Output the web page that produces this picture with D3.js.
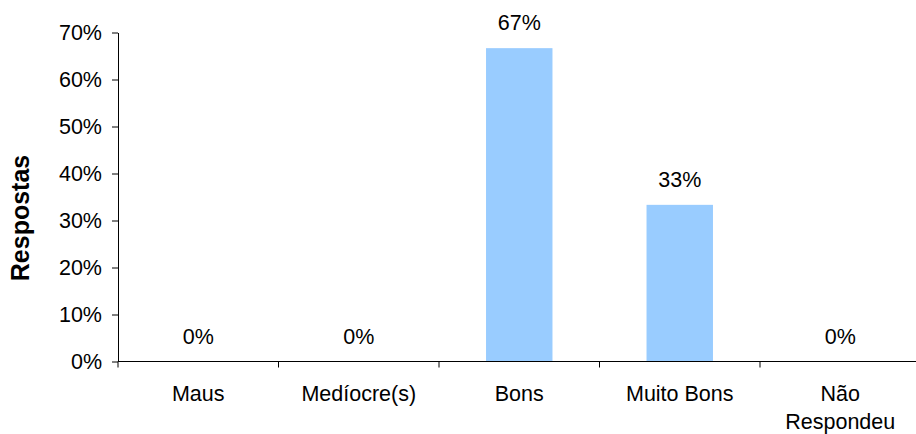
<!DOCTYPE html>
<html>
<head>
<meta charset="utf-8">
<script src="https://cdn.jsdelivr.net/npm/d3@7"></script>
<style>
  html, body { margin: 0; padding: 0; background: #fff; }
  svg { display: block; font-family: "Liberation Sans", Arial, sans-serif; }
</style>
</head>
<body>
<svg id="chart" width="916" height="434"></svg>
<script>
const categories = ["Maus", "Medíocre(s)", "Bons", "Muito Bons", "Não Respondeu"];
const values = [0, 0, 66.67, 33.33, 0];
const valueLabels = ["0%", "0%", "67%", "33%", "0%"];
const yTicks = [0, 10, 20, 30, 40, 50, 60, 70];
const yTitle = "Respostas";

const svg = d3.select("#chart");
const mLeft = 118, mRight = 920.5, mTop = 32.5, mBottom = 361.5;
const fs = 21.5;

const x = d3.scaleBand().domain(categories).range([mLeft, mRight])
  .paddingInner(0.586).paddingOuter(0.293);
const y = d3.scaleLinear().domain([0, 70]).range([mBottom, mTop]);

// bars
svg.append("g").selectAll("rect").data(values).join("rect")
  .attr("x", (d, i) => x(categories[i]))
  .attr("y", d => y(d))
  .attr("width", x.bandwidth())
  .attr("height", d => y(0) - y(d))
  .attr("fill", "#99CCFF");

// value labels
svg.append("g").selectAll("text").data(values).join("text")
  .attr("x", (d, i) => x(categories[i]) + x.bandwidth() / 2)
  .attr("y", d => y(d) - 18)
  .attr("text-anchor", "middle")
  .attr("font-size", fs)
  .attr("fill", "#000")
  .text((d, i) => valueLabels[i]);

// y axis
const yAxis = d3.axisLeft(y).tickValues(yTicks).tickFormat(d => d + "%")
  .tickSize(6).tickPadding(10).tickSizeOuter(0);
const gy = svg.append("g").attr("transform", `translate(${mLeft},0)`).call(yAxis);
gy.select(".domain").attr("stroke", "#000");
gy.selectAll(".tick line").attr("stroke", "#000");
gy.selectAll(".tick text").attr("font-size", fs).attr("fill", "#000")
  .attr("font-family", "Liberation Sans, Arial, sans-serif");

// x axis
const step = x.step();
const xBoundaryScale = d3.scaleLinear().domain([0, categories.length]).range([mLeft, mLeft + step * categories.length]);
const gx = svg.append("g").attr("transform", `translate(0,${mBottom})`);
gx.append("line").attr("x1", mLeft).attr("x2", 916).attr("y1", 0).attr("y2", 0)
  .attr("stroke", "#000");
gx.selectAll("line.tk").data(d3.range(0, categories.length)).join("line")
  .attr("class", "tk")
  .attr("x1", d => xBoundaryScale(d)).attr("x2", d => xBoundaryScale(d))
  .attr("y1", 0).attr("y2", 6).attr("stroke", "#000");

const catText = gx.selectAll("text.cat").data(categories).join("text")
  .attr("class", "cat")
  .attr("text-anchor", "middle")
  .attr("font-size", fs)
  .attr("fill", "#000")
  .attr("x", d => x(d) + x.bandwidth() / 2)
  .attr("y", 39.5);
catText.each(function(d) {
  const words = d === "Não Respondeu" ? ["Não", "Respondeu"] : [d];
  const t = d3.select(this);
  words.forEach((w, i) => {
    t.append("tspan").attr("x", x(d) + x.bandwidth() / 2)
      .attr("dy", i === 0 ? 0 : 27.5).text(w);
  });
});

// y title
svg.append("text")
  .attr("transform", `translate(28.5,218) rotate(-90)`)
  .attr("text-anchor", "middle")
  .attr("font-size", 25)
  .attr("font-weight", "bold")
  .attr("fill", "#000")
  .text(yTitle);
</script>
</body>
</html>
